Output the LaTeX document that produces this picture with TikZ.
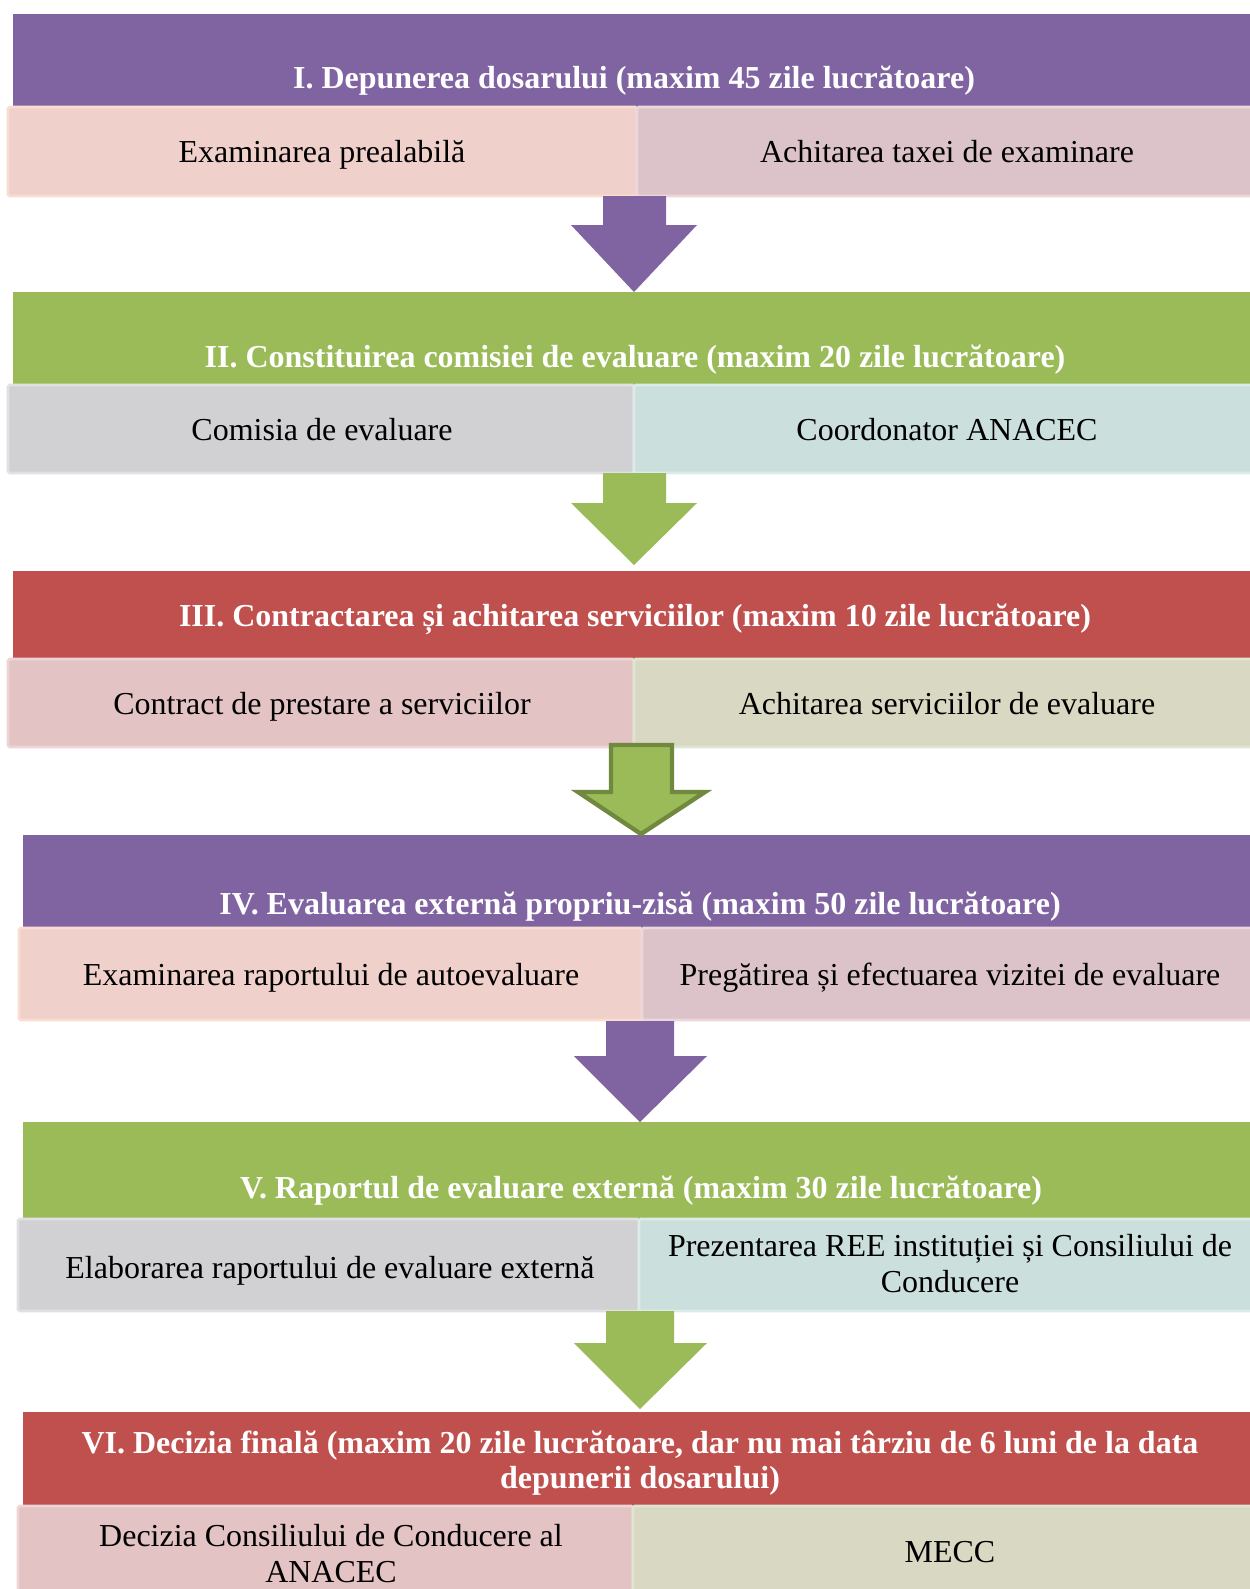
\documentclass[tikz,border=0pt]{standalone}
\usepackage{fontspec}
\setmainfont{Liberation Serif}
\usetikzlibrary{positioning}

\definecolor{hviolet}{HTML}{8064A2}
\definecolor{hgreen}{HTML}{9BBB59}
\definecolor{hred}{HTML}{C0504D}
\definecolor{darkgreen}{HTML}{71893F}
\definecolor{peachfill}{HTML}{EFD0CB}
\definecolor{peachline}{HTML}{FADDD1}
\definecolor{mauvefill}{HTML}{DBC3C9}
\definecolor{mauveline}{HTML}{EDD6D9}
\definecolor{greyfill}{HTML}{D1D1D3}
\definecolor{greyline}{HTML}{E1E1E5}
\definecolor{tealfill}{HTML}{CBDFDD}
\definecolor{tealline}{HTML}{DCEAEA}
\definecolor{rosefill}{HTML}{E3C3C3}
\definecolor{roseline}{HTML}{EDD5D5}
\definecolor{khakifill}{HTML}{D9D8C3}
\definecolor{khakiline}{HTML}{DDE6D0}

\begin{document}
\begin{tikzpicture}[x=0.02cm, y=-0.02cm]
			\tikzstyle{head} = [text=white, inner sep=0pt, anchor=base, align=center, font=\fontsize{18.2}{19.5}\selectfont\bfseries]
			\tikzstyle{cell} = [inner sep=0pt, anchor=base, align=center, font=\fontsize{18.2}{20}\selectfont]
			\tikzstyle{cellbox} = [line width=1.5pt, rounded corners=1pt]
			\useasboundingbox (0,0) rectangle (1250,1589);

			% I
			\fill[hviolet] (13,14) rectangle (1260,107);
			\filldraw[cellbox, fill=peachfill, draw=peachline] (8,107) rectangle (637,196);
			\filldraw[cellbox, fill=mauvefill, draw=mauveline] (637,107) rectangle (1260,196);
			\node[head] (h1) at (634,88) {I. Depunerea dosarului (maxim 45 zile lucrătoare)};
			\node[cell] (c1a) at (322,162) {Examinarea prealabilă};
			\node[cell] (c1b) at (947,162) {Achitarea taxei de examinare};

			% II
			\fill[hgreen] (13,292) rectangle (1260,385);
			\filldraw[cellbox, fill=greyfill, draw=greyline] (8,385) rectangle (634,473);
			\filldraw[cellbox, fill=tealfill, draw=tealline] (634,385) rectangle (1260,473);
			\node[head] (h2) at (635,367) {II. Constituirea comisiei de evaluare (maxim 20 zile lucrătoare)};
			\node[cell] (c2a) at (322,440) {Comisia de evaluare};
			\node[cell] (c2b) at (947,440) {Coordonator ANACEC};

			% III
			\fill[hred] (13,571) rectangle (1260,659);
			\filldraw[cellbox, fill=rosefill, draw=roseline] (8,659) rectangle (634,747);
			\filldraw[cellbox, fill=khakifill, draw=khakiline] (634,659) rectangle (1260,747);
			\node[head] (h3) at (635,626) {III. Contractarea și achitarea serviciilor (maxim 10 zile lucrătoare)};
			\node[cell] (c3a) at (322,714) {Contract de prestare a serviciilor};
			\node[cell] (c3b) at (947,714) {Achitarea serviciilor de evaluare};

			% IV
			\fill[hviolet] (23,835) rectangle (1260,928);
			\filldraw[cellbox, fill=peachfill, draw=peachline] (19,928) rectangle (642,1020);
			\filldraw[cellbox, fill=mauvefill, draw=mauveline] (642,928) rectangle (1260,1020);
			\node[head] (h4) at (640,914) {IV. Evaluarea externă propriu-zisă (maxim 50 zile lucrătoare)};
			\node[cell] (c4a) at (331,985) {Examinarea raportului de autoevaluare};
			\node[cell] (c4b) at (950,985) {Pregătirea și efectuarea vizitei de evaluare};

			% V
			\fill[hgreen] (23,1122) rectangle (1260,1219);
			\filldraw[cellbox, fill=greyfill, draw=greyline] (18,1219) rectangle (639,1311);
			\filldraw[cellbox, fill=tealfill, draw=tealline] (639,1219) rectangle (1260,1311);
			\node[head] (h5) at (641,1198) {V. Raportul de evaluare externă (maxim 30 zile lucrătoare)};
			\node[cell] (c5a) at (330,1278) {Elaborarea raportului de evaluare externă};
			\node[cell] (c5b) at (950,1292) {Prezentarea REE instituției și Consiliului de\\Conducere};

			% VI
			\fill[hred] (23,1412) rectangle (1260,1506);
			\filldraw[cellbox, fill=rosefill, draw=roseline] (18,1506) rectangle (633,1600);
			\filldraw[cellbox, fill=khakifill, draw=khakiline] (633,1506) rectangle (1260,1600);
			\node[head] (h6) at (640,1488) {VI. Decizia finală (maxim 20 zile lucrătoare, dar nu mai târziu de 6 luni de la data\\depunerii dosarului)};
			\node[cell] (c6a) at (331,1582) {Decizia Consiliului de Conducere al\\ANACEC};
			\node[cell] (c6b) at (950,1562) {MECC};

			% block arrows between the steps
			\fill[hviolet] (603,196) -- (666,196) -- (666,225) -- (697,225) -- (634,292) -- (571,225) -- (603,225) -- cycle;
			\fill[hgreen] (603,473) -- (666,473) -- (666,503) -- (697,503) -- (634,565) -- (571,503) -- (603,503) -- cycle;
			\filldraw[fill=hgreen, draw=darkgreen, line width=2.5pt] (611,745) -- (672,745) -- (672,792) -- (705,792) -- (641,834) -- (578,792) -- (611,792) -- cycle;
			\fill[hviolet] (606,1021) -- (674,1021) -- (674,1056) -- (707,1056) -- (640,1122) -- (574,1056) -- (606,1056) -- cycle;
			\fill[hgreen] (606,1311) -- (674,1311) -- (674,1343) -- (707,1343) -- (640,1409) -- (574,1343) -- (606,1343) -- cycle;
\end{tikzpicture}
\end{document}
